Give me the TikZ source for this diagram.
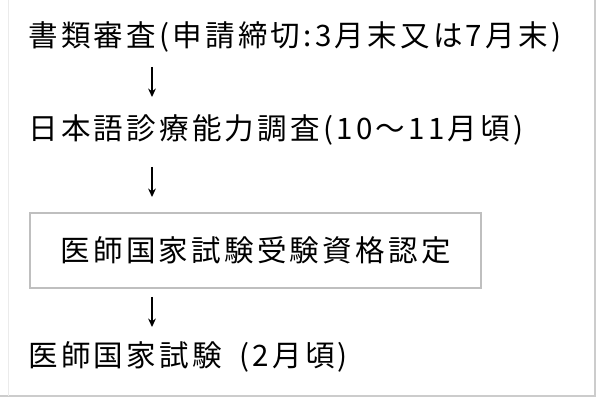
\documentclass[tikz,border=0pt]{standalone}
\usepackage{fontspec}
\newfontfamily\jpfont[LetterSpace=11]{Noto Sans CJK JP}
\usetikzlibrary{arrows.meta}
\tikzset{
  steptext/.style={anchor=west, inner sep=0pt, font=\jpfont\fontsize{21}{24}\selectfont},
  stepbox/.style={draw=black!25, line width=0.8pt, minimum width=11.275cm, minimum height=1.875cm,
    inner sep=0pt, font=\jpfont\fontsize{21}{24}\selectfont},
  arrow/.style={line width=1.1pt, -{Stealth[length=6pt, width=5.5pt]}}
}
\begin{document}
\begin{tikzpicture}[x=0.025cm, y=-0.025cm]
    \useasboundingbox (0, 0) rectangle (600, 400);
    % frame
    \draw [color=black!20, line width=0.8pt] (595, 0) -- (595, 396) -- (0, 396);
    \draw [color=black!8] (8, 0) -- (8, 396);
    %
    \node [steptext] (review) at (28, 37) {書類審査(申請締切:3月末又は7月末)};
    \node [steptext] (survey) at (28, 130) {日本語診療能力調査(10\char"301C 11月頃)};
    \node [stepbox] (qualify) at (255.5, 250.5) {医師国家試験受験資格認定};
    \node [steptext] (exam) at (28, 357) {医師国家試験\hspace{0.6em}(2月頃)};
    %
    \coordinate (a1) at (152, 67);
    \coordinate (b1) at (152, 97);
    \coordinate (a2) at (152, 167);
    \coordinate (b2) at (152, 197);
    \coordinate (a3) at (152, 297);
    \coordinate (b3) at (152, 327);
    \draw [arrow] (a1) -- (b1);
    \draw [arrow] (a2) -- (b2);
    \draw [arrow] (a3) -- (b3);
\end{tikzpicture}
\end{document}
